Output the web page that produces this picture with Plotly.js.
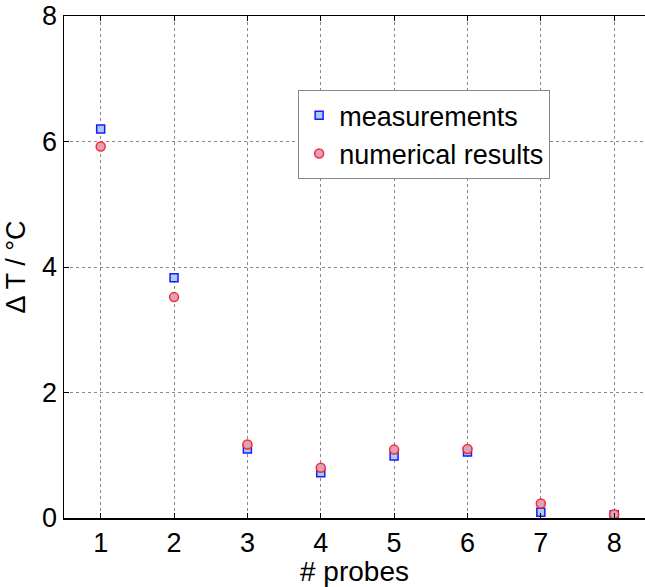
<!DOCTYPE html>
<html>
<head>
<meta charset="utf-8">
<script src="https://cdn.plot.ly/plotly-3.0.1.min.js"></script>
<style>html,body{margin:0;padding:0;background:#fff;}</style>
</head>
<body>
<div id="chart" style="width:645px;height:587px;"></div>
<script>
const probes = [1, 2, 3, 4, 5, 6, 7, 8];
const measurements = [6.2, 3.83, 1.10, 0.72, 0.99, 1.05, 0.09, 0.05];
const numerical = [5.92, 3.52, 1.17, 0.80, 1.09, 1.10, 0.23, 0.06];
const xTicks = [1, 2, 3, 4, 5, 6, 7, 8];
const yTicks = [0, 2, 4, 6, 8];

const font = {family: 'Liberation Sans, Arial, sans-serif', color: '#000'};
const f = s => Object.assign({size: s}, font);

const traces = [
  {
    x: probes, y: measurements, type: 'scatter', mode: 'markers', name: 'measurements',
    marker: {symbol: 'square', size: 8, color: '#a8cdf0', line: {color: '#1a1aff', width: 1.5}}
  },
  {
    x: probes, y: numerical, type: 'scatter', mode: 'markers', name: 'numerical results',
    marker: {symbol: 'circle', size: 9, color: '#d9a3bd', line: {color: '#ff2a2a', width: 1.5}}
  }
];

const layout = {
  width: 645, height: 587,
  margin: {l: 64, r: 0, t: 16, b: 69},
  paper_bgcolor: '#fff', plot_bgcolor: '#fff',
  font: f(28),
  showlegend: true,
  legend: {
    x: 0.403, y: 0.852, xanchor: 'left', yanchor: 'top',
    bgcolor: '#fff', bordercolor: '#888', borderwidth: 1,
    font: f(27),
    tracegroupgap: 0
  },
  xaxis: {
    range: [0.5, 8.42], tickvals: xTicks, ticktext: xTicks.map(String),
    showline: true, linecolor: '#000', linewidth: 1.5, mirror: 'ticks',
    ticks: 'inside', ticklen: 5, tickcolor: '#000',
    showgrid: true, gridcolor: '#888', griddash: 'dot', gridwidth: 1,
    zeroline: false,
    tickfont: f(27),
    title: {text: '# probes', font: f(28), standoff: 0}
  },
  yaxis: {
    range: [0, 8], tickvals: yTicks, ticktext: yTicks.map(String),
    showline: true, linecolor: '#000', linewidth: 1.5, mirror: false,
    ticks: 'inside', ticklen: 5, tickcolor: '#000',
    showgrid: true, gridcolor: '#888', griddash: 'dot', gridwidth: 1,
    zeroline: false,
    tickfont: f(27),
    title: {text: 'Δ T / °C', font: f(27), standoff: 8}
  }
};

Plotly.newPlot('chart', traces, layout, {displayModeBar: false, staticPlot: true});
</script>
</body>
</html>
